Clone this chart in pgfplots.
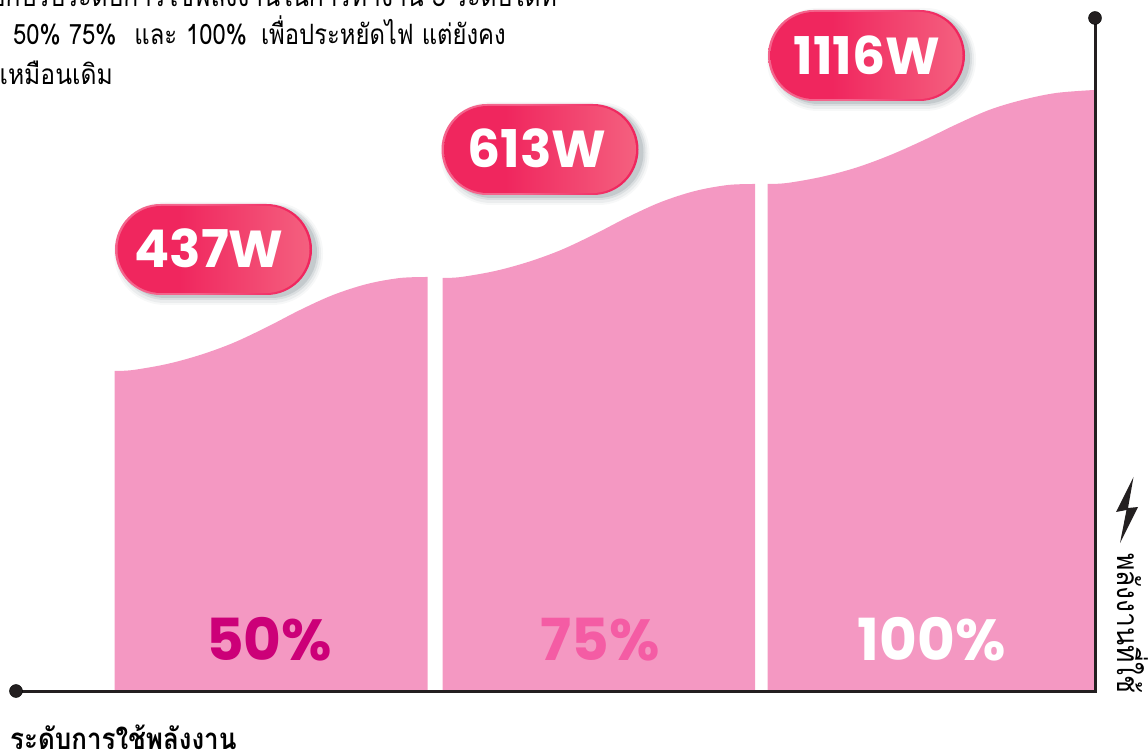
\documentclass[border=0pt]{standalone}
\usepackage{fontspec}
\usepackage{pgfplots}
\pgfplotsset{compat=1.18}
\usetikzlibrary{shadings}
\setmainfont{Poppins}
\newfontfamily\thaifont[Script=Thai,FakeStretch=0.88]{Loma}
\newfontfamily\thaifontb[Script=Thai,FakeStretch=0.85]{Loma}
\definecolor{areapink}{HTML}{F498C2}
\definecolor{axisdark}{HTML}{231F20}
\definecolor{pa}{HTML}{F0265E}
\definecolor{pb}{HTML}{F4607F}
\definecolor{pedge}{HTML}{F4648C}
\definecolor{shad}{HTML}{5F6F78}
\pgfdeclarehorizontalshading{pillgrad}{100bp}{color(0bp)=(pa); color(41bp)=(pa); color(75bp)=(pb); color(100bp)=(pb)}
\pgfdeclarehorizontalshading{pilledge}{100bp}{color(0bp)=(pedge); color(45bp)=(pedge); color(70bp)=(pa); color(100bp)=(pa)}
\tikzset{pillbase/.style={rounded corners=45.5pt, minimum width=#1, minimum height=91pt, inner sep=0pt, draw=none}}
% x-centre, height-centre, label, label x, label baseline
\newcommand{\pill}[5]{%
  \node[pillbase=209pt, minimum height=103pt, rounded corners=51pt, fill=shad, fill opacity=.05] at (axis cs:#1+5,#2-4) {};
  \node[pillbase=205pt, minimum height=99pt, rounded corners=49pt, fill=shad, fill opacity=.08] at (axis cs:#1+5,#2-4) {};
  \node[pillbase=201pt, minimum height=95pt, rounded corners=47pt, fill=shad, fill opacity=.12] at (axis cs:#1+5,#2-3) {};
  \node[pillbase=197pt, minimum height=91pt, fill=shad, fill opacity=.18] at (axis cs:#1+5,#2-3) {};
  \node[pillbase=197pt, shading=pilledge] at (axis cs:#1,#2) {};
  \node[pillbase=192pt, minimum height=87pt, rounded corners=43.5pt, shading=pillgrad] at (axis cs:#1,#2) {};
  \node[anchor=base, text=white, font=\fontsize{52}{52}\selectfont\bfseries, inner sep=0pt] at (axis cs:#4,#5) {#3};
}
\begin{document}
\begin{tikzpicture}[x=1pt,y=1pt]
\path[use as bounding box] (0,0) rectangle (1148pt,753pt);
\clip (0,0) rectangle (1148pt,753pt);
\begin{axis}[
  at={(0pt,0pt)}, anchor=south west,
  width=1148pt, height=753pt, scale only axis,
  xmin=0, xmax=1148, ymin=-62, ymax=691,
  hide axis, clip=false,
]
% areas: power-level bands (x in px, height above baseline)
\addplot[fill=areapink, draw=none, smooth, tension=0.55] coordinates {
 (114.5,320)(133,321)(167,327)(200,336)(233,348)(267,364)(300,381)(333,396)(367,407)(400,413)(427.5,414)} \closedcycle;
\addplot[fill=areapink, draw=none, smooth, tension=0.55] coordinates {
 (442.5,413)(461,414)(495,420)(528,429)(561,441)(595,457)(628,474)(661,489)(695,500)(728,506)(755,507)} \closedcycle;
\addplot[fill=areapink, draw=none, smooth, tension=0.55] coordinates {
 (767.5,507)(787,508)(821,514)(855,523)(888,535)(922,550)(955,566)(989,581)(1022,591)(1056,598)(1094,601)} \closedcycle;
% axes
\addplot[axisdark, line width=3pt, line join=miter] coordinates {(16,0)(1095,0)(1095,673)};
\addplot[only marks, mark=*, mark size=6.5pt, mark options={fill=axisdark, draw=none}] coordinates {(16,0)(1095,673)};
% bolt
\addplot[fill=axisdark, draw=none] coordinates {(1133.5,214)(1116,179)(1126.5,181)(1120,148)(1138,184)(1128,183)} -- cycle;
% pills
\pill{213.5}{441.5}{437W}{209}{423}
\pill{540}{541.5}{613W}{537}{523}
\pill{866.5}{635.5}{1116W}{867}{616}
% percent labels
\node[anchor=base, text={rgb,255:red,204;green,0;blue,120}, font=\fontsize{58}{58}\selectfont\bfseries, inner sep=0pt] at (axis cs:269,30.5) {50\%};
\node[anchor=base, text={rgb,255:red,244;green,92;blue,164}, font=\fontsize{58}{58}\selectfont\bfseries, inner sep=0pt] at (axis cs:600.5,30.5) {75\%};
\node[anchor=base, text=white, font=\fontsize{58}{58}\selectfont\bfseries, inner sep=0pt] at (axis cs:931.5,30.5) {100\%};
% texts
\node[anchor=base east, inner sep=0pt, font=\thaifont\fontsize{28}{28}\selectfont] at (axis cs:557,684) {เลือกปรับระดับการใช้พลังงานในการทำงาน 3 ระดับได้ที่};
\node[anchor=base west, inner sep=0pt, font=\thaifontb\fontsize{28}{28}\selectfont] at (axis cs:13,646) {50\% 75\%\hspace{10pt} และ\hspace{1pt} 100\%\hspace{6pt} เพื่อประหยัดไฟ แต่ยังคง};
\node[anchor=base west, inner sep=0pt, font=\thaifont\fontsize{28}{28}\selectfont] at (axis cs:-29,606) {ได้เหมือนเดิม};
\node[anchor=base west, inner sep=0pt, font=\thaifont\bfseries\fontsize{29.5}{29.5}\selectfont] at (axis cs:10,-58) {ระดับการใช้พลังงาน};
\node[anchor=base west, rotate=-90, inner sep=0pt, font=\thaifont\fontsize{30}{30}\selectfont] at (axis cs:1117,138) {พลังงานที่ใช้};
\end{axis}
\end{tikzpicture}
\end{document}
